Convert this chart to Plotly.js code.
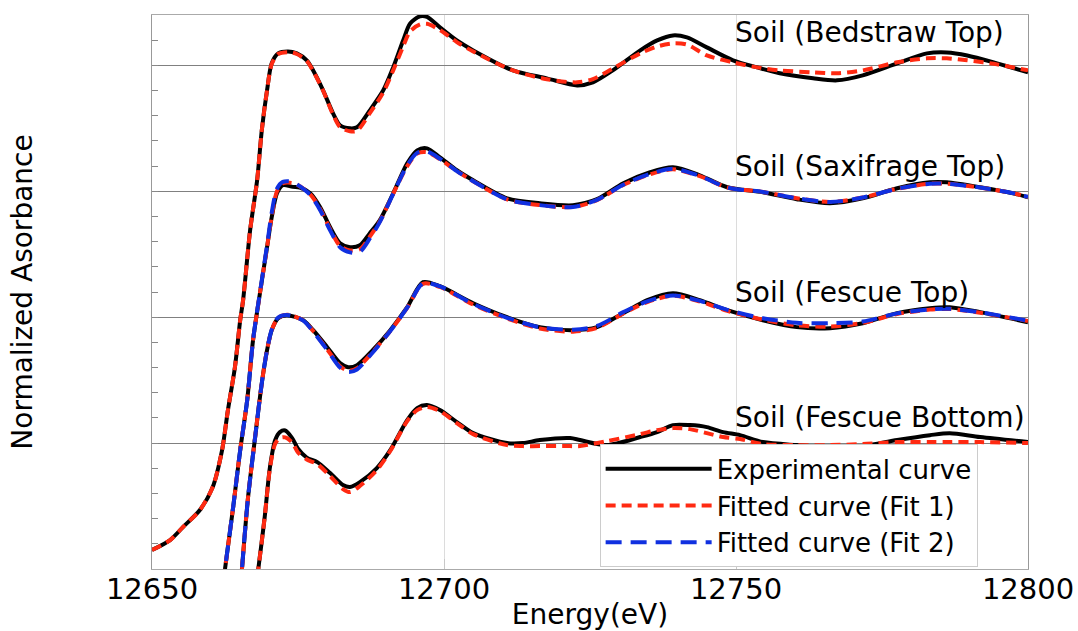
<!DOCTYPE html>
<html>
<head>
<meta charset="utf-8">
<script src="https://cdn.plot.ly/plotly-3.0.1.min.js"></script>
<style>html,body{margin:0;padding:0;background:#fff;}#chart{width:1078px;height:631px;}</style>
</head>
<body>
<div id="chart"></div>
<script>
// Energy (eV) and normalized absorbance (stacked with offsets)
var bedstrawE = [12650, 12653.1, 12655.3, 12658.2, 12660.4, 12662.0, 12663.0, 12664.2, 12665.1, 12665.6, 12666.8, 12668.0, 12668.8, 12669.7, 12670.5, 12671.6, 12673.3, 12674.8, 12676.5, 12677.6, 12679.3, 12681.0, 12682.2, 12683.9, 12685.1, 12687.3, 12689.6, 12691.3, 12693.0, 12694.2, 12695.9, 12697.1, 12699.3, 12702.2, 12705.0, 12711.8, 12717.6, 12722.8, 12725.5, 12728.9, 12733.6, 12736.5, 12739.2, 12741.6, 12745.0, 12749.5, 12753.6, 12757.5, 12763.2, 12767.3, 12771.7, 12777.6, 12782.7, 12786.1, 12789.6, 12794.7, 12800];
var bedstrawExp = [0.151, 0.230, 0.333, 0.468, 0.651, 0.944, 1.262, 1.603, 1.976, 2.135, 2.690, 3.087, 3.484, 3.802, 4.016, 4.095, 4.111, 4.095, 4.040, 3.960, 3.802, 3.619, 3.524, 3.500, 3.508, 3.643, 3.802, 3.984, 4.198, 4.333, 4.390, 4.385, 4.302, 4.198, 4.119, 3.960, 3.897, 3.841, 3.865, 3.960, 4.119, 4.198, 4.238, 4.222, 4.143, 4.040, 3.984, 3.937, 3.897, 3.881, 3.921, 4.016, 4.095, 4.103, 4.079, 4.016, 3.944];
var bedstrawFit1 = [0.151, 0.230, 0.333, 0.468, 0.651, 0.944, 1.262, 1.603, 1.976, 2.135, 2.690, 3.087, 3.484, 3.802, 4.010, 4.090, 4.105, 4.090, 4.035, 3.955, 3.800, 3.610, 3.510, 3.476, 3.480, 3.620, 3.785, 3.960, 4.150, 4.270, 4.325, 4.330, 4.280, 4.185, 4.110, 3.960, 3.890, 3.865, 3.890, 3.975, 4.095, 4.150, 4.175, 4.165, 4.079, 4.024, 3.984, 3.960, 3.944, 3.937, 3.960, 4.024, 4.056, 4.056, 4.040, 4.008, 3.960];

var saxifrageE = [12661.6, 12662.5, 12663.9, 12665.1, 12666.3, 12667.3, 12668.3, 12669.7, 12670.5, 12671.4, 12672.4, 12674.1, 12675.3, 12677.1, 12678.8, 12680.5, 12682.2, 12683.9, 12685.6, 12687.3, 12689.0, 12691.3, 12693.7, 12695.4, 12697.1, 12699.3, 12702.2, 12705.0, 12710.8, 12716.4, 12722.1, 12726.2, 12730.7, 12735.3, 12739.2, 12743.8, 12748.5, 12754.6, 12760.4, 12766.1, 12771.7, 12777.6, 12783.2, 12786.1, 12791.8, 12797.4, 12800];
var saxifrageExp = [-0.33, 0, 0.492, 0.944, 1.341, 1.817, 2.135, 2.556, 2.794, 2.984, 3.048, 3.035, 3.030, 2.984, 2.873, 2.714, 2.587, 2.556, 2.571, 2.667, 2.770, 2.984, 3.222, 3.325, 3.341, 3.270, 3.167, 3.087, 2.944, 2.905, 2.889, 2.937, 3.063, 3.151, 3.190, 3.127, 3.032, 2.992, 2.937, 2.905, 2.944, 3.024, 3.071, 3.071, 3.032, 2.984, 2.952];
var saxifrageFit1 = [-0.33, 0, 0.492, 0.944, 1.341, 1.817, 2.135, 2.556, 2.800, 3.000, 3.063, 3.065, 3.040, 2.975, 2.860, 2.700, 2.565, 2.530, 2.540, 2.640, 2.760, 2.980, 3.200, 3.300, 3.310, 3.255, 3.160, 3.080, 2.935, 2.890, 2.875, 2.930, 3.050, 3.135, 3.175, 3.120, 3.030, 2.995, 2.945, 2.915, 2.950, 3.020, 3.060, 3.060, 3.030, 2.985, 2.955];
var saxifrageFit2 = [-0.33, 0, 0.492, 0.944, 1.341, 1.817, 2.140, 2.570, 2.830, 3.020, 3.075, 3.075, 3.040, 2.970, 2.850, 2.690, 2.555, 2.515, 2.520, 2.625, 2.755, 2.980, 3.205, 3.305, 3.315, 3.258, 3.160, 3.080, 2.935, 2.890, 2.875, 2.932, 3.052, 3.138, 3.178, 3.122, 3.030, 2.995, 2.945, 2.915, 2.950, 3.020, 3.060, 3.060, 3.030, 2.985, 2.955];

var fescueTopE = [12664.7, 12665.4, 12666.4, 12667.6, 12668.8, 12669.7, 12670.5, 12671.6, 12673.1, 12675.9, 12677.6, 12680.0, 12682.2, 12683.6, 12685.1, 12687.8, 12690.8, 12693.7, 12696.4, 12699.3, 12705.0, 12710.8, 12716.4, 12722.1, 12726.2, 12730.7, 12734.8, 12739.2, 12743.8, 12748.5, 12754.6, 12760.4, 12766.1, 12771.7, 12777.6, 12783.2, 12786.6, 12791.8, 12800];
var fescueTopExp = [-0.38, 0, 0.548, 1.024, 1.476, 1.738, 1.897, 1.992, 2.016, 1.976, 1.897, 1.762, 1.635, 1.603, 1.619, 1.738, 1.897, 2.079, 2.278, 2.246, 2.111, 2.000, 1.921, 1.897, 1.921, 2.032, 2.135, 2.190, 2.135, 2.056, 1.976, 1.921, 1.913, 1.952, 2.032, 2.071, 2.079, 2.040, 1.960];
var fescueTopFit1 = [-0.38, 0, 0.548, 1.024, 1.476, 1.738, 1.897, 1.995, 2.020, 1.975, 1.890, 1.745, 1.610, 1.575, 1.595, 1.725, 1.890, 2.075, 2.265, 2.240, 2.100, 1.990, 1.910, 1.885, 1.915, 2.030, 2.120, 2.170, 2.125, 2.050, 1.980, 1.935, 1.925, 1.955, 2.025, 2.060, 2.065, 2.035, 1.970];
var fescueTopFit2 = [-0.38, 0, 0.548, 1.024, 1.476, 1.738, 1.900, 1.998, 2.018, 1.972, 1.885, 1.740, 1.600, 1.565, 1.585, 1.720, 1.890, 2.075, 2.268, 2.245, 2.105, 1.995, 1.920, 1.900, 1.930, 2.040, 2.125, 2.172, 2.130, 2.058, 1.992, 1.955, 1.952, 1.965, 2.030, 2.062, 2.066, 2.038, 1.972];

var fescueBotE = [12667.3, 12668.2, 12669.3, 12670.2, 12671.1, 12671.9, 12672.8, 12674.0, 12675.0, 12676.5, 12678.3, 12680.5, 12682.7, 12683.9, 12685.6, 12688.5, 12690.8, 12693.7, 12695.4, 12697.1, 12699.3, 12702.2, 12705.0, 12710.8, 12713.5, 12716.4, 12721.6, 12723.3, 12727.9, 12733.6, 12736.5, 12739.2, 12742.1, 12745.0, 12747.8, 12750.7, 12754.6, 12760.4, 12766.1, 12771.7, 12777.6, 12783.2, 12786.6, 12791.8, 12800];
var fescueBotExp = [-0.31, 0, 0.413, 0.810, 1.024, 1.087, 1.100, 1.040, 0.955, 0.885, 0.849, 0.762, 0.667, 0.651, 0.690, 0.802, 0.944, 1.183, 1.278, 1.302, 1.262, 1.167, 1.079, 1.000, 1.000, 1.024, 1.040, 1.024, 0.984, 1.048, 1.087, 1.143, 1.143, 1.127, 1.087, 1.063, 1.008, 0.984, 0.968, 0.976, 1.024, 1.063, 1.079, 1.048, 1.008];
var fescueBotFit1 = [-0.31, 0, 0.413, 0.800, 0.995, 1.040, 1.045, 1.005, 0.925, 0.870, 0.833, 0.738, 0.635, 0.611, 0.659, 0.786, 0.937, 1.175, 1.262, 1.286, 1.254, 1.159, 1.071, 0.984, 0.976, 0.976, 0.976, 0.976, 1.016, 1.071, 1.103, 1.119, 1.111, 1.079, 1.048, 1.032, 0.992, 0.984, 0.984, 0.992, 1.008, 1.008, 1.008, 1.008, 1.000];

var sampleLabels = ["Soil (Bedstraw Top)", "Soil (Saxifrage Top)", "Soil (Fescue Top)", "Soil (Fescue Bottom)"];
var labelY = [4.26, 3.20, 2.20, 1.20];
var seriesNames = ["Experimental curve", "Fitted curve (Fit 1)", "Fitted curve (Fit 2)"];
var xTicks = [12650, 12700, 12750, 12800];

var FONT = "DejaVu Sans, Verdana, sans-serif";
var expLine = {color: "#000000", width: 4};
var fit1Line = {color: "#ff2a12", width: 4, dash: "10px,6px"};
var fit2Line = {color: "#1030e0", width: 4, dash: "16px,9px"};

function tr(x, y, kind, show) {
  var line = kind === 0 ? expLine : (kind === 1 ? fit1Line : fit2Line);
  return {x: x, y: y, type: "scatter", mode: "lines", line: Object.assign({shape: "spline", smoothing: 0.8}, line),
    name: seriesNames[kind], legendgroup: "g" + kind, showlegend: show, legendrank: kind + 1, hoverinfo: "skip"};
}

var data = [
  tr(bedstrawE, bedstrawExp, 0, true),
  tr(saxifrageE, saxifrageExp, 0, false),
  tr(fescueTopE, fescueTopExp, 0, false),
  tr(fescueBotE, fescueBotExp, 0, false),
  tr(bedstrawE, bedstrawFit1, 1, true),
  tr(saxifrageE, saxifrageFit1, 1, false),
  tr(fescueTopE, fescueTopFit1, 1, false),
  tr(fescueBotE, fescueBotFit1, 1, false),
  tr(saxifrageE, saxifrageFit2, 2, true),
  tr(fescueTopE, fescueTopFit2, 2, false)
];

var annotations = sampleLabels.map(function (t, i) {
  return {x: 12749.5, y: labelY[i], xref: "x", yref: "y", text: t, showarrow: false,
    xanchor: "left", yanchor: "middle", font: {family: FONT, size: 28, color: "#000"}};
});

var layout = {
  width: 1078, height: 631,
  margin: {l: 152, r: 50, t: 15, b: 62},
  paper_bgcolor: "#fff", plot_bgcolor: "#fff",
  showlegend: true,
  xaxis: {
    range: [12650, 12800], tickvals: xTicks, ticktext: xTicks.map(String),
    tickfont: {family: FONT, size: 29, color: "#000"},
    showgrid: true, gridcolor: "#dcdcdc", gridwidth: 1,
    ticks: "inside", ticklen: 10, tickcolor: "#c8c8c8",
    showline: true, linecolor: "#aaaaaa", linewidth: 1, mirror: true, zeroline: false,
    ticklabelstandoff: -6,
    title: {text: "Energy(eV)", font: {family: FONT, size: 28, color: "#000"}, standoff: 8},
    automargin: false
  },
  yaxis: {
    range: [0, 4.4], dtick: 1, tick0: 0, showticklabels: false,
    showgrid: true, gridcolor: "#808080", gridwidth: 1,
    ticks: "inside", ticklen: 6, tickcolor: "#888",
    minor: {dtick: 0.2, ticks: "inside", ticklen: 6, tickcolor: "#888", showgrid: false},
    showline: true, linecolor: "#999999", linewidth: 1, mirror: true, zeroline: false,
    title: {text: "Normalized Asorbance", font: {family: FONT, size: 28, color: "#000"}, standoff: 110},
    automargin: false
  },
  legend: {
    x: 0.511, y: 0.003, xanchor: "left", yanchor: "bottom",
    bgcolor: "#fff", bordercolor: "#cccccc", borderwidth: 1,
    font: {family: FONT, size: 26, color: "#000"},
    itemwidth: 106, traceorder: "normal", tracegroupgap: 2
  },
  annotations: annotations
};

Plotly.newPlot("chart", data, layout, {displayModeBar: false, staticPlot: true});
</script>
</body>
</html>
